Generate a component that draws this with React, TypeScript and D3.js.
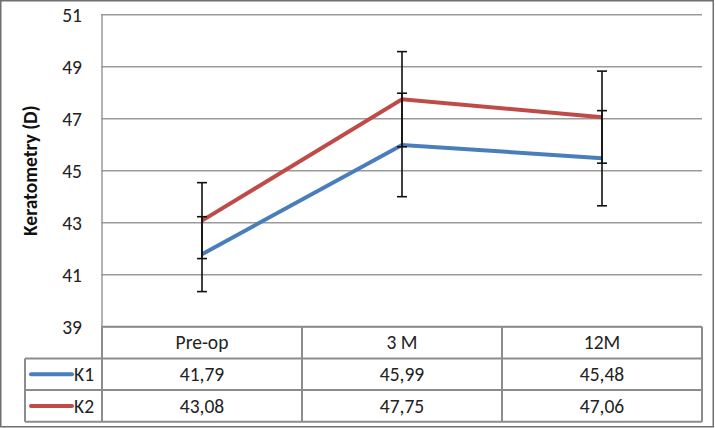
import React, { useRef, useEffect } from 'react';
import * as d3 from 'd3';

const categories = ['Pre-op', '3 M', '12M'];
const seriesNames = ['K1', 'K2'];
const k1Values = [41.79, 45.99, 45.48];
const k2Values = [43.08, 47.75, 47.06];
const k1Errors = [1.44, 1.99, 1.83];
const k2Errors = [1.46, 1.83, 1.77];
const yTicks = [39, 41, 43, 45, 47, 49, 51];
const colors = ['#4a7ebb', '#be4b48'];

const FONT = 'Carlito, Calibri, Lato, sans-serif';
const FS = '19.5px';

const App = () => {
  const svgRef = useRef<SVGSVGElement | null>(null);

  useEffect(() => {
    const W = 715;
    const H = 428;
    const left = 102;
    const right = 702;
    const top = 14.7;
    const bottom = 326.7;
    const rowH = 31.7;

    const svg = d3.select(svgRef.current);
    svg.selectAll('*').remove();
    svg.attr('width', W).attr('height', H);

    // outer frame
    svg.append('rect')
      .attr('x', 0.75).attr('y', 0.75)
      .attr('width', W - 2.5).attr('height', H - 2)
      .attr('fill', '#fff')
      .attr('stroke', '#6f6f6f')
      .attr('stroke-width', 1.5);

    const x = d3.scaleBand().domain(categories).range([left, right]);
    const y = d3.scaleLinear().domain([39, 51]).range([bottom, top]);
    const cx = (c: string) => (x(c) as number) + x.bandwidth() / 2;

    // gridlines
    svg.append('g')
      .selectAll('line')
      .data(yTicks)
      .join('line')
      .attr('x1', left - 1).attr('x2', right)
      .attr('y1', d => y(d)).attr('y2', d => y(d))
      .attr('stroke', '#9a9a9a')
      .attr('stroke-width', 1.5);

    // left axis line
    svg.append('line')
      .attr('x1', left).attr('x2', left)
      .attr('y1', top).attr('y2', bottom + 3 * rowH)
      .attr('stroke', '#9a9a9a')
      .attr('stroke-width', 1.5);

    // tick labels
    svg.append('g')
      .selectAll('text')
      .data(yTicks)
      .join('text')
      .attr('x', 82)
      .attr('y', d => y(d))
      .attr('dy', '0.35em')
      .attr('text-anchor', 'end')
      .style('font-family', FONT)
      .style('font-size', FS)
      .attr('fill', '#222')
      .text(d => d);

    // y title
    svg.append('text')
      .attr('transform', `translate(37,${(top + bottom) / 2}) rotate(-90)`)
      .attr('text-anchor', 'middle')
      .style('font-family', FONT)
      .style('font-size', FS)
      .style('font-weight', 'bold')
      .attr('fill', '#111')
      .text('Keratometry (D)');

    // lines
    const allValues = [k1Values, k2Values];
    const allErrors = [k1Errors, k2Errors];
    const line = d3.line<number>()
      .x((_, i) => cx(categories[i]))
      .y(d => y(d));

    allValues.forEach((vals, s) => {
      svg.append('path')
        .datum(vals)
        .attr('fill', 'none')
        .attr('stroke', colors[s])
        .attr('stroke-width', 4)
        .attr('d', line);
    });

    // error bars
    allValues.forEach((vals, s) => {
      const g = svg.append('g').attr('stroke', '#111').attr('stroke-width', 1.6);
      vals.forEach((v, i) => {
        const px = cx(categories[i]);
        const lo = y(v - allErrors[s][i]);
        const hi = y(v + allErrors[s][i]);
        g.append('line').attr('x1', px).attr('x2', px).attr('y1', lo).attr('y2', hi);
        g.append('line').attr('x1', px - 5).attr('x2', px + 5).attr('y1', lo).attr('y2', lo);
        g.append('line').attr('x1', px - 5).attr('x2', px + 5).attr('y1', hi).attr('y2', hi);
      });
    });

    // data table
    const tbl = svg.append('g');
    const gray = '#8c8c8c';
    const legendLeft = 25;
    const rowTops = [bottom, bottom + rowH, bottom + 2 * rowH];
    const tblBottom = bottom + 3 * rowH;

    // horizontal borders
    [bottom, bottom + rowH, bottom + 2 * rowH, tblBottom].forEach((ry, i) => {
      tbl.append('line')
        .attr('x1', i === 0 ? left : legendLeft).attr('x2', right)
        .attr('y1', ry).attr('y2', ry)
        .attr('stroke', gray).attr('stroke-width', 2);
    });
    // vertical borders
    [left, ...categories.map(c => (x(c) as number) + x.bandwidth())].forEach(vx => {
      tbl.append('line')
        .attr('x1', vx).attr('x2', vx)
        .attr('y1', bottom).attr('y2', tblBottom)
        .attr('stroke', gray).attr('stroke-width', 2);
    });
    tbl.append('line')
      .attr('x1', legendLeft).attr('x2', legendLeft)
      .attr('y1', rowTops[1]).attr('y2', tblBottom)
      .attr('stroke', gray).attr('stroke-width', 2);

    const textStyle = (t: d3.Selection<SVGTextElement, unknown, null, undefined>) =>
      t.style('font-family', FONT).style('font-size', FS).attr('fill', '#222')
        .attr('text-anchor', 'middle').attr('dy', '0.35em');

    categories.forEach(c => {
      tbl.append('text').attr('x', cx(c)).attr('y', rowTops[0] + rowH / 2).call(textStyle).text(c);
    });

    allValues.forEach((vals, s) => {
      const ry = rowTops[s + 1] + rowH / 2;
      tbl.append('line')
        .attr('x1', 31).attr('x2', 72)
        .attr('y1', ry).attr('y2', ry)
        .attr('stroke', colors[s]).attr('stroke-width', 4)
        .attr('stroke-linecap', 'round');
      tbl.append('text').attr('x', 74).attr('y', ry).call(textStyle)
        .attr('text-anchor', 'start').text(seriesNames[s]);
      vals.forEach((v, i) => {
        tbl.append('text').attr('x', cx(categories[i])).attr('y', ry).call(textStyle)
          .text(v.toFixed(2).replace('.', ','));
      });
    });
  }, []);

  return (
    <svg ref={svgRef} style={{ position: 'absolute', left: 0, top: 0, display: 'block' }}></svg>
  );
};

export default App;
